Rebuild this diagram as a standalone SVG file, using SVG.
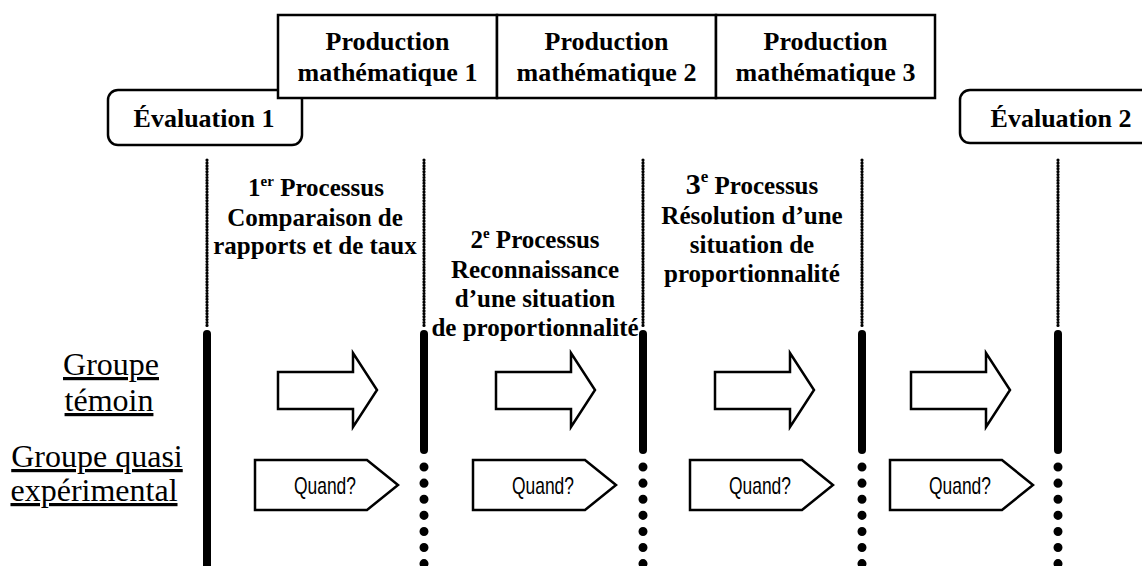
<svg xmlns="http://www.w3.org/2000/svg" width="1142" height="566" viewBox="0 0 1142 566">
<style>
.box{fill:#fff;stroke:#000;stroke-width:2.5}
.bt{font-family:"Liberation Serif","Times New Roman",serif;font-weight:bold;font-size:26px;fill:#000;text-anchor:middle}
.pt{font-family:"Liberation Serif","Times New Roman",serif;font-weight:bold;font-size:25px;fill:#000;text-anchor:middle}
.gl{font-family:"Liberation Serif","Times New Roman",serif;font-size:32px;fill:#000;text-anchor:middle;text-decoration:underline}
.qt{font-family:"Liberation Sans Narrow","Liberation Sans",Arial,sans-serif;font-size:24px;fill:#000;text-anchor:middle}
.thin{stroke:#000;stroke-width:3.2;stroke-linecap:round;stroke-dasharray:0.1 2.8;fill:none}
.thick{stroke:#000;stroke-width:8;stroke-linecap:round;fill:none}
.dots{stroke:#000;stroke-width:9;stroke-linecap:round;stroke-dasharray:0.1 16;fill:none}
.arr{fill:#fff;stroke:#000;stroke-width:2.5;stroke-linejoin:miter}
</style>
<defs>
<path id="bigArrow" d="M0,372 H75 V353 L99,390 L75,427 V409 H0 Z"/>
<path id="quandArrow" d="M0,460 H112 L143,485 L112,510 H0 Z"/>
</defs>

<g id="connectors">
<line class="thin" x1="207" y1="160" x2="207" y2="328"/>
<line class="thin" x1="424" y1="160" x2="424" y2="328"/>
<line class="thin" x1="643" y1="160" x2="643" y2="328"/>
<line class="thin" x1="862" y1="160" x2="862" y2="328"/>
<line class="thin" x1="1058" y1="160" x2="1058" y2="328"/>
<line class="thick" x1="207" y1="334" x2="207" y2="580"/>
<line class="thick" x1="424" y1="334" x2="424" y2="450"/>
<line class="thick" x1="643" y1="334" x2="643" y2="450"/>
<line class="thick" x1="862" y1="334" x2="862" y2="450"/>
<line class="thick" x1="1058" y1="334" x2="1058" y2="450"/>
<line class="dots" x1="424" y1="467" x2="424" y2="570"/>
<line class="dots" x1="643" y1="467" x2="643" y2="570"/>
<line class="dots" x1="862" y1="467" x2="862" y2="570"/>
<line class="dots" x1="1058" y1="467" x2="1058" y2="570"/>
<use href="#bigArrow" class="arr" x="278"/>
<use href="#bigArrow" class="arr" x="496"/>
<use href="#bigArrow" class="arr" x="715"/>
<use href="#bigArrow" class="arr" x="911"/>
</g>

<g id="evaluation1">
<rect class="box" x="108" y="90" width="194" height="55" rx="10"/>
<text class="bt" x="204" y="127">Évaluation 1</text>
</g>

<g id="production1">
<rect class="box" x="278" y="15" width="219" height="83"/>
<text class="bt" x="387.5" y="50">Production</text>
<text class="bt" x="387.5" y="81">mathématique 1</text>
</g>
<g id="production2">
<rect class="box" x="497" y="15" width="219" height="83"/>
<text class="bt" x="606.5" y="50">Production</text>
<text class="bt" x="606.5" y="81">mathématique 2</text>
</g>
<g id="production3">
<rect class="box" x="716" y="15" width="219" height="83"/>
<text class="bt" x="825.5" y="50">Production</text>
<text class="bt" x="825.5" y="81">mathématique 3</text>
</g>

<g id="evaluation2">
<rect class="box" x="960" y="90" width="200" height="53" rx="10"/>
<text class="bt" x="1061" y="127">Évaluation 2</text>
</g>

<g id="processus1">
<text class="pt" x="316" y="196">1<tspan font-size="15" dy="-10">er</tspan><tspan dy="10"> Processus</tspan></text>
<text class="pt" x="315" y="226">Comparaison de</text>
<text class="pt" x="315" y="254">rapports et de taux</text>
</g>
<g id="processus2">
<text class="pt" x="535" y="248">2<tspan font-size="15" dy="-10">e</tspan><tspan dy="10"> Processus</tspan></text>
<text class="pt" x="535" y="278">Reconnaissance</text>
<text class="pt" x="535" y="307">d’une situation</text>
<text class="pt" x="535" y="336">de proportionnalité</text>
</g>
<g id="processus3">
<text class="pt" x="752" y="194"><tspan font-size="30">3</tspan><tspan font-size="17" dy="-12">e</tspan><tspan dy="12"> Processus</tspan></text>
<text class="pt" x="752" y="224">Résolution d’une</text>
<text class="pt" x="752" y="253">situation de</text>
<text class="pt" x="752" y="282">proportionnalité</text>
</g>

<g id="groupe-temoin">
<text class="gl" x="111" y="375">Groupe</text>
<text class="gl" x="109" y="411">témoin</text>
</g>
<g id="groupe-quasi">
<text class="gl" x="97" y="467">Groupe quasi</text>
<text class="gl" x="94" y="501">expérimental</text>
</g>

<g id="quand1"><use href="#quandArrow" class="arr" x="255"/><text class="qt" x="325" y="494" textLength="62" lengthAdjust="spacingAndGlyphs">Quand?</text></g>
<g id="quand2"><use href="#quandArrow" class="arr" x="473"/><text class="qt" x="543" y="494" textLength="62" lengthAdjust="spacingAndGlyphs">Quand?</text></g>
<g id="quand3"><use href="#quandArrow" class="arr" x="690"/><text class="qt" x="760" y="494" textLength="62" lengthAdjust="spacingAndGlyphs">Quand?</text></g>
<g id="quand4"><use href="#quandArrow" class="arr" x="890"/><text class="qt" x="960" y="494" textLength="62" lengthAdjust="spacingAndGlyphs">Quand?</text></g>
</svg>
